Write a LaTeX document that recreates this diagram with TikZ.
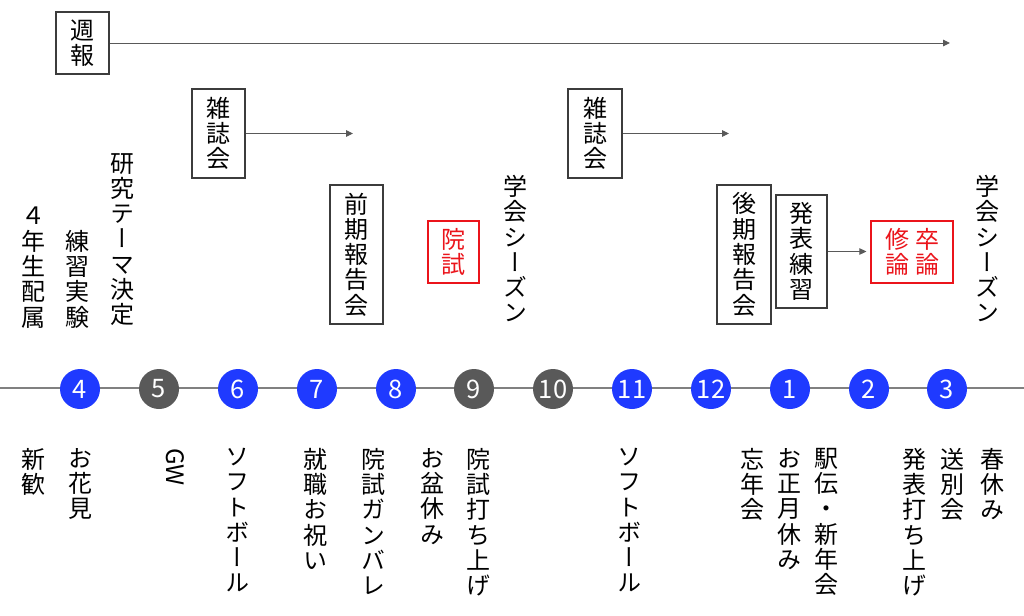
\documentclass[tikz,border=0pt]{standalone}
\usepackage{fontspec}
\newfontfamily\jp[RawFeature=+vert]{Noto Sans CJK JP}
\newfontfamily\jpnum{Noto Sans CJK JP}
\usetikzlibrary{arrows.meta}
\definecolor{mblue}{RGB}{31,58,255}
\definecolor{mgray}{RGB}{89,89,89}
\definecolor{lred}{RGB}{235,20,27}
\definecolor{boxc}{RGB}{60,60,60}
\definecolor{linec}{RGB}{128,128,128}
\begin{document}
\begin{tikzpicture}[x=1pt,y=-1pt,
  vtext/.style={font=\jp\fontsize{24}{25.3}\selectfont, align=center, inner sep=0pt, anchor=north},
  evbox/.style={draw=boxc, line width=1.2pt, font=\jp\fontsize{24}{25.3}\selectfont, align=center, inner sep=0pt},
  redbox/.style={evbox, draw=lred, text=lred},
  flow/.style={draw=mgray, line width=0.9pt, -{Triangle[length=7pt,width=6.5pt]}},
  month/.style={circle, fill=mblue, minimum size=40pt, inner sep=0pt, text=white, font=\jpnum\fontsize{25.5}{25.5}\selectfont},
  offmonth/.style={month, fill=mgray}
]
\useasboundingbox (0,0) rectangle (1024,615);
\fill[white] (0,0) rectangle (1024,615);

% timeline
\coordinate (tlA) at (0,387.5);
\coordinate (tlB) at (1024,387.5);
\draw[linec, line width=2pt] (tlA) -- (tlB);

\node[month]    (m4)  at (80,389)  {4};
\node[offmonth] (m5)  at (159,389) {5};
\node[month]    (m6)  at (238,389) {6};
\node[month]    (m7)  at (317,389) {7};
\node[month]    (m8)  at (396,389) {8};
\node[offmonth] (m9)  at (474,389) {9};
\node[offmonth] (m10) at (553,389) {10};
\node[month]    (m11) at (632,389) {11};
\node[month]    (m12) at (711,389) {12};
\node[month]    (m1)  at (790,389) {1};
\node[month]    (m2)  at (869,389) {2};
\node[month]    (m3)  at (947,389) {3};

% boxes
\node[evbox, minimum width=53pt, minimum height=62pt] (weekly) at (82.5,43) {週\\報};
\node[evbox, minimum width=53pt, minimum height=89pt] (zasshiA) at (218.5,133.5) {雑\\誌\\会};
\node[evbox, minimum width=54pt, minimum height=89pt] (zasshiB) at (595,133.5) {雑\\誌\\会};
\node[evbox, minimum width=53pt, minimum height=139pt] (zenki) at (356.5,254.5) {前\\期\\報\\告\\会};
\node[redbox, minimum width=51pt, minimum height=62pt] (inshi) at (453.5,252) {院\\試};
\node[evbox, minimum width=54pt, minimum height=139pt] (kouki) at (744,254.5) {後\\期\\報\\告\\会};
\node[evbox, minimum width=51pt, minimum height=113pt] (renshu) at (801.5,251.5) {発\\表\\練\\習};
\node[redbox, minimum width=82pt, minimum height=62pt] (ronbun) at (912,252) {修\hspace{6pt}卒\\論\hspace{6pt}論};

% arrows
\coordinate (weeklyEnd) at (950,43);
\coordinate (zasshiAEnd) at (353,133.5);
\coordinate (zasshiBEnd) at (729,133.5);
\draw[flow] (weekly.east) -- (weeklyEnd);
\draw[flow] (zasshiA.east) -- (zasshiAEnd);
\draw[flow] (zasshiB.east) -- (zasshiBEnd);
\draw[flow, shorten >=4pt] (renshu.east) -- (renshu.east -| ronbun.west);

% upper vertical texts
\node[vtext] (t4nen) at (33,207) {４\\年\\生\\配\\属};
\node[vtext] (trenshu) at (77,230) {練\\習\\実\\験};
\node[vtext] (tkenkyu) at (122,153) {研\\究\\テ\\ー\\マ\\決\\定};
\node[vtext] (tgakkaiA) at (515,175) {学\\会\\シ\\ー\\ズ\\ン};
\node[vtext] (tgakkaiB) at (987,175) {学\\会\\シ\\ー\\ズ\\ン};

% lower vertical texts
\node[vtext] (bshinkan) at (33,448) {新\\歓};
\node[vtext] (bhanami) at (80,448) {お\\花\\見};
\node[font=\jp\fontsize{24}{25.3}\selectfont, inner sep=0pt, anchor=west, rotate=-90] (bgw) at (175,448) {GW};
\node[vtext] (bsoftA) at (237,448) {ソ\\フ\\ト\\ボ\\ー\\ル};
\node[vtext] (bshushoku) at (315,448) {就\\職\\お\\祝\\い};
\node[vtext] (bganbare) at (373,448) {院\\試\\ガ\\ン\\バ\\レ};
\node[vtext] (bobon) at (432,448) {お\\盆\\休\\み};
\node[vtext] (buchiageA) at (478,448) {院\\試\\打\\ち\\上\\げ};
\node[vtext] (bsoftB) at (629,448) {ソ\\フ\\ト\\ボ\\ー\\ル};
\node[vtext] (bbonen) at (752,448) {忘\\年\\会};
\node[vtext] (bshogatsu) at (789,448) {お\\正\\月\\休\\み};
\node[vtext] (bekiden) at (826,448) {駅\\伝\\・\\新\\年\\会};
\node[vtext] (buchiageB) at (914,448) {発\\表\\打\\ち\\上\\げ};
\node[vtext] (bsobetsu) at (952,448) {送\\別\\会};
\node[vtext] (bharu) at (992,448) {春\\休\\み};
\end{tikzpicture}
\end{document}
